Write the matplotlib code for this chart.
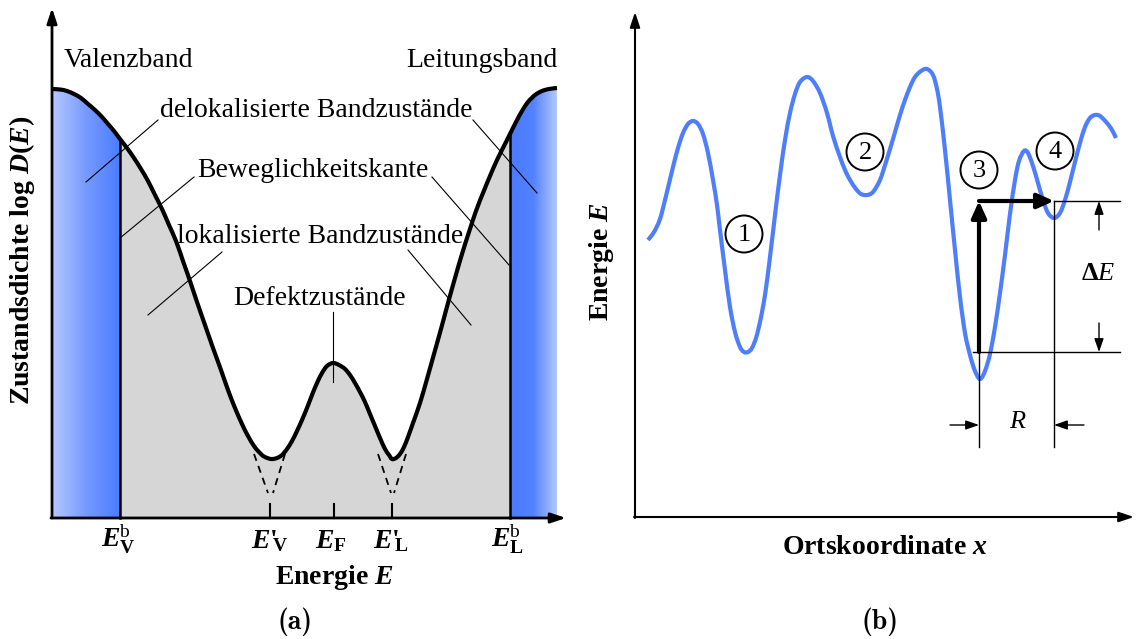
import numpy as np
import matplotlib
matplotlib.use('Agg')
import matplotlib.pyplot as plt
from matplotlib.colors import LinearSegmentedColormap
from matplotlib.patches import Polygon, Circle, PathPatch
from matplotlib.path import Path

plt.rcParams['font.family'] = ['Liberation Serif', 'DejaVu Serif']
plt.rcParams['mathtext.fontset'] = 'custom'
plt.rcParams['mathtext.rm'] = 'Liberation Serif'
plt.rcParams['mathtext.it'] = 'Liberation Serif:italic'
plt.rcParams['mathtext.bf'] = 'Liberation Serif:bold'
if 'mathtext.bfit' in plt.rcParams:
    plt.rcParams['mathtext.bfit'] = 'Liberation Serif:italic:bold'

# ---- panel (a): density of states vs energy (schematic units)
energy = [0, 8, 15, 22, 29, 36, 43, 50, 56, 62, 68, 75, 82, 89, 96, 103, 110, 117, 124,
          131, 138, 145, 153, 161, 169, 176, 183, 190, 196, 202, 207, 212, 219, 225, 230,
          235, 240, 245, 250, 255, 260, 265, 270, 275, 281, 287, 293, 298, 303, 308, 313,
          318, 323, 328, 333, 337, 340, 344, 348, 352, 356, 361, 368, 375, 382, 389, 396,
          403, 410, 417, 424, 431, 438, 445, 452, 458, 464, 470, 476, 483, 490, 497, 505]
log_dos = [429, 428.5, 427, 424, 420, 414, 408, 401, 394, 387, 379, 370, 360, 349, 337,
           323, 309, 293, 277, 257, 237, 216, 193, 170, 148, 128, 110, 94, 82, 72, 66,
           61.5, 59, 60, 63, 69, 77, 87, 98, 110, 123, 135, 145, 152, 155, 153, 149, 143,
           135, 126, 116, 104, 92, 80, 69, 63, 59, 60, 64, 71, 81, 95, 115, 139, 164, 189,
           215, 240, 264, 286, 307, 325, 342, 358, 372, 384, 396, 407, 416, 423, 427, 429, 430]

E_vb, E_v1, E_f, E_l1, E_lb = 68, 218, 282, 340, 458
tick_pos = [E_v1, E_f, E_l1]
label_pos = [E_vb, E_v1, E_f, E_l1, E_lb]
tick_labels = [r'$\mathbfit{E}_{\mathbf{V}}^{\mathrm{b}}$',
               r"$\mathbfit{E}$'$_{\!\!\mathbf{V}}$",
               r'$\mathbfit{E}_{\mathbf{F}}$',
               r"$\mathbfit{E}$'$_{\!\!\mathbf{L}}$",
               r'$\mathbfit{E}_{\mathbf{L}}^{\mathrm{b}}$']

# dashed continuation of the band tails below the defect minima
tail_e = [[202, 216], [233, 221], [326, 339], [354, 342]]
tail_d = [[64, 25], [64, 25], [64, 25], [64, 25]]

# ---- panel (b): potential landscape
pos_x = [13, 19, 25, 31, 38, 43, 48, 53, 58, 63, 68, 73, 78, 82, 85, 90, 95, 100, 105,
         109, 113, 117, 121, 125, 130, 135, 140, 145, 150, 155, 160, 165, 172, 178, 185,
         192, 198, 205, 210, 215, 221, 226, 232, 238, 245, 251, 258, 265, 270, 275, 280,
         286, 292, 298, 302, 305, 310, 315, 320, 325, 330, 335, 340, 345, 350, 355, 360,
         365, 370, 375, 380, 384, 389, 393, 398, 403, 408, 413, 419, 425, 430, 435, 440,
         445, 450, 455, 460, 465, 472, 477, 481]
pot_e = [277, 285, 298, 321, 350, 369, 384, 393, 396, 393, 383, 364, 337, 312, 287, 247,
         210, 185, 170, 165, 165, 169, 179, 195, 222, 260, 302, 342, 377, 404, 423, 435,
         440, 436, 424, 404, 381, 360, 347, 337, 328, 323, 322, 325, 337, 355, 378, 402,
         417, 430, 440, 446, 448, 442, 428, 410, 367, 317, 267, 220, 184, 162, 146, 138,
         146, 163, 190, 224, 262, 303, 337, 356, 366, 364, 351, 334, 317, 304, 299, 304,
         317, 335, 355, 374, 390, 399, 402, 401, 394, 387, 379]

site_x = [109, 230, 344, 420]
site_e = [283, 365, 347, 366]
site_labels = ['1', '2', '3', '4']

hop_start = (344, 165)   # bottom of well 3
hop_top = (344, 316)     # energy of well 4
hop_end = (419, 316)     # position of well 4


def smooth_path(xs, ys):
    # cubic Bezier segments through the read points (Catmull-Rom tangents)
    P = np.column_stack([xs, ys]).astype(float)
    n = len(P)
    verts, codes = [P[0]], [Path.MOVETO]
    for i in range(n - 1):
        p0 = P[i - 1] if i > 0 else P[i]
        p1, p2 = P[i], P[i + 1]
        p3 = P[i + 2] if i + 2 < n else P[i + 1]
        verts += [p1 + (p2 - p0) / 6, p2 - (p3 - p1) / 6, p2]
        codes += [Path.CURVE4] * 3
    return Path(verts, codes)


fig = plt.figure(figsize=(11.36, 6.39), dpi=100)

# ================= panel (a)
axL = fig.add_axes([0, 0, 570 / 1136, 1])
E = np.array(energy, dtype=float)
D = np.array(log_dos, dtype=float)

inner = (E >= E_vb) & (E <= E_lb)
axL.fill_between(E[inner], 0, D[inner], color='#d6d6d6', lw=0, zorder=1)

grad = np.linspace(0, 1, 256)[None, :]
bands = [(0, E_vb, ['#b6c9ff', '#7699ff', '#4a7bff']),
         (E_lb, E[-1], ['#4a7bff', '#5282ff', '#b6c9ff'])]
for lo, hi, cols in bands:
    sel = (E >= lo) & (E <= hi)
    pts = np.vstack([np.column_stack([E[sel], D[sel]]), [[hi, 0], [lo, 0]]])
    im = axL.imshow(grad, cmap=LinearSegmentedColormap.from_list('band', cols),
                    extent=[lo, hi, 0, D.max() + 5], origin='lower', aspect='auto',
                    interpolation='bilinear', zorder=1)
    poly = Polygon(pts, closed=True, transform=axL.transData, fc='none', ec='none')
    im.set_clip_path(poly)

axL.add_patch(PathPatch(smooth_path(E, D), fill=False, ec='black', lw=3, zorder=3))
for e in [E_vb, E_lb]:
    axL.plot([e, e], [0, np.interp(e, E, D)], color='black', lw=1.8, zorder=3)
for e in tick_pos:
    axL.plot([e, e], [0, 14], color='black', lw=1.5, zorder=3)
for te, td in zip(tail_e, tail_d):
    axL.plot(te, td, color='black', lw=1.3, ls=(0, (4, 3)), zorder=3)

# axes with arrows
axL.annotate('', xy=(0, 510), xytext=(0, 0),
             arrowprops=dict(arrowstyle='-|>,head_length=0.9,head_width=0.3', lw=2,
                             color='black', shrinkA=0, shrinkB=0, mutation_scale=10))
axL.annotate('', xy=(514, 0), xytext=(-1, 0),
             arrowprops=dict(arrowstyle='-|>,head_length=0.9,head_width=0.3', lw=2,
                             color='black', shrinkA=0, shrinkB=0, mutation_scale=10))

for lab, e in zip(tick_labels, label_pos):
    axL.annotate(lab, xy=(e, -30), xytext=(-14, 0), textcoords='offset points',
                 fontsize=20, fontweight='bold', ha='left', va='baseline')

axL.text(282, -60, r'Energie $\mathbfit{E}$', fontsize=20, fontweight='bold',
         ha='center', va='center')
axL.text(-30, 258, r'Zustandsdichte log $\mathbfit{D}\mathbf{(}\mathbfit{E}\mathbf{)}$',
         fontsize=20, fontweight='bold', rotation=90, ha='center', va='center')
axL.text(243, -104, '(a)', family='cmb10', fontsize=20, ha='center', va='center')

# annotations
axL.text(12, 451, 'Valenzband', fontsize=20, ha='left', va='baseline')
axL.text(505, 451, 'Leitungsband', fontsize=20, ha='right', va='baseline')
axL.text(108, 401, 'delokalisierte Bandzustände', fontsize=20, ha='left', va='baseline')
axL.text(145, 341, 'Beweglichkeitskante', fontsize=20, ha='left', va='baseline')
axL.text(125, 275, 'lokalisierte Bandzustände', fontsize=20, ha='left', va='baseline')
axL.text(181, 213, 'Defektzustände', fontsize=20, ha='left', va='baseline')

leaders = [((106, 398), (34, 336)), ((421, 398), (485, 325)),
           ((142, 341), (68, 280)), ((380, 341), (457, 253)),
           ((170, 266), (96, 203)), ((356, 268), (419, 193)),
           ((281, 206), (281, 136))]
for (x0, y0), (x1, y1) in leaders:
    axL.plot([x0, x1], [y0, y1], color='black', lw=0.8, zorder=4)

axL.set_xlim(-52, 518)
axL.set_ylim(-121, 518)
axL.axis('off')

# ================= panel (b)
axR = fig.add_axes([570 / 1136, 0, 566 / 1136, 1])
axR.add_patch(PathPatch(smooth_path(pos_x, pot_e), fill=False, ec='#4f7efb', lw=3,
                        capstyle='butt', zorder=2))

for x, e, s in zip(site_x, site_e, site_labels):
    axR.add_patch(Circle((x, e), 18.5, fill=False, ec='black', lw=1.4, zorder=3))
    axR.text(x, e - 1, s, fontsize=19, ha='center', va='center', zorder=3)

thin = dict(color='black', lw=1.0, zorder=3)
axR.plot([338, 485], [hop_start[1], hop_start[1]], **thin)
axR.plot([hop_end[0], 485], [hop_end[1], hop_end[1]], **thin)
axR.plot([hop_start[0], hop_start[0]], [hop_start[1], 70], **thin)
axR.plot([hop_end[0], hop_end[0]], [hop_end[1], 70], **thin)

thick = dict(arrowstyle='-|>,head_length=1.0,head_width=0.45', lw=3, color='black',
             shrinkA=0, shrinkB=0, mutation_scale=10)
axR.annotate('', xy=hop_top, xytext=hop_start, arrowprops=thick, zorder=4)
axR.annotate('', xy=hop_end, xytext=hop_top, arrowprops=thick, zorder=4)

small = dict(arrowstyle='-|>,head_length=0.8,head_width=0.28', lw=1.0, color='black',
             shrinkA=0, shrinkB=0, mutation_scale=10)
axR.annotate('', xy=(464, 316), xytext=(464, 287), arrowprops=small)
axR.annotate('', xy=(464, 165), xytext=(464, 194), arrowprops=small)
axR.annotate('', xy=(344, 92), xytext=(315, 92), arrowprops=small)
axR.annotate('', xy=(419, 92), xytext=(449, 92), arrowprops=small)
axR.text(463, 244, r'Δ$\mathit{E}$', fontsize=19, fontweight='bold', ha='center', va='center')
axR.text(382, 95, 'R', fontsize=19, style='italic', ha='center', va='center')

axR.annotate('', xy=(0, 505), xytext=(0, -1),
             arrowprops=dict(arrowstyle='-|>,head_length=0.9,head_width=0.3', lw=1.5,
                             color='black', shrinkA=0, shrinkB=0, mutation_scale=10))
axR.annotate('', xy=(499, 0), xytext=(-1, 0),
             arrowprops=dict(arrowstyle='-|>,head_length=0.9,head_width=0.3', lw=1.5,
                             color='black', shrinkA=0, shrinkB=0, mutation_scale=10))

axR.text(-34, 255, r'Energie $\mathbfit{E}$', fontsize=20, fontweight='bold', rotation=90,
         ha='center', va='center')
axR.text(250, -31, r'Ortskoordinate $\mathbfit{x}$', fontsize=20, fontweight='bold',
         ha='center', va='center')
axR.text(245, -105, '(b)', family='cmb10', fontsize=20, ha='center', va='center')

axR.set_xlim(-65, 501)
axR.set_ylim(-122, 517)
axR.axis('off')

fig.savefig('out.png', dpi=100)
